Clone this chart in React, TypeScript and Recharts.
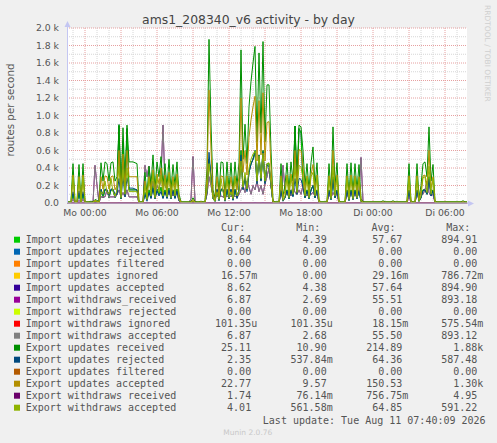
import React from "react";
import { LineChart, Line, XAxis, YAxis, CartesianGrid } from "recharts";

// 10-minute samples, first sample at Sun 22:30 (1.5 h before "Mo 00:00")
const startHour = -1.5;
const stepsPerHour = 6;

const exportUpdatesReceived = [
  15,15,15,450,20,20,440,20,450,15,
  15,15,20,15,40,30,15,460,250,470,
  450,250,460,470,250,300,880,150,860,250,
  890,470,470,470,460,450,15,15,15,350,
  100,420,200,550,150,470,300,530,200,450,
  180,500,150,440,200,470,100,15,15,15,
  15,15,15,60,15,15,15,20,15,15,
  400,1870,900,150,60,460,100,470,460,80,
  470,150,460,120,470,200,460,1750,500,900,
  450,1100,1390,1600,1790,700,1715,800,1845,700,
  1350,1350,600,20,15,15,15,450,80,200,
  460,150,470,250,880,300,890,870,600,200,
  450,150,460,640,200,460,30,15,15,15,
  15,450,120,870,200,460,20,15,15,15,
  450,100,460,120,450,150,440,50,15,15,
  15,15,15,15,15,15,15,15,25,15,
  15,15,15,25,15,15,15,15,15,15,
  15,450,20,15,15,450,60,200,450,470,
  300,870,250,440,20,15,15,15,15,15,
  15,15,15,15,15,15,15,15,25,15,
  15,
];

const exportUpdatesAccepted = [
  10,10,10,320,15,15,300,15,320,10,
  10,10,10,10,30,20,10,300,160,310,
  300,160,300,310,150,200,600,100,560,180,
  600,300,300,300,300,300,10,10,10,250,
  80,300,150,380,100,330,220,400,150,320,
  130,350,100,300,150,330,70,10,10,10,
  10,10,10,40,10,10,10,15,10,10,
  280,1290,600,100,40,300,70,310,300,60,
  310,100,300,90,310,150,300,1200,350,600,
  320,750,950,1100,1220,480,1170,550,1260,480,
  920,930,400,15,10,10,10,310,60,140,
  320,100,330,180,600,200,610,600,420,140,
  310,100,320,440,140,320,20,10,10,10,
  10,310,80,600,140,320,15,10,10,10,
  310,70,320,80,310,100,300,35,10,10,
  10,10,10,10,10,10,10,10,15,10,
  10,10,10,15,10,10,10,10,10,10,
  10,310,15,10,10,310,40,140,310,320,
  200,600,170,300,15,10,10,10,10,10,
  10,10,10,10,10,10,10,10,15,10,
  10,
];

const exportUpdatesRejected = [
  5,5,5,130,5,5,140,5,130,5,
  5,5,10,5,10,10,5,160,90,160,
  150,90,160,160,100,100,280,50,300,70,
  290,170,170,170,160,150,5,5,5,100,
  20,120,50,170,50,140,80,130,50,130,
  50,150,50,140,50,140,30,5,5,5,
  5,5,5,20,5,5,5,5,5,5,
  120,580,300,50,20,160,30,160,160,20,
  160,50,160,30,160,50,160,550,150,300,
  130,350,440,500,570,220,545,250,585,220,
  430,420,200,5,5,5,5,140,20,60,
  140,50,140,70,280,100,280,270,180,60,
  140,50,140,200,60,140,10,5,5,5,
  5,140,40,270,60,140,5,5,5,5,
  140,30,140,40,140,50,140,15,5,5,
  5,5,5,5,5,5,5,5,10,5,
  5,5,5,10,5,5,5,5,5,5,
  5,140,5,5,5,140,20,60,140,150,
  100,270,80,140,5,5,5,5,5,5,
  5,5,5,5,5,5,5,5,10,5,
  5,
];

const exportWithdrawsAccepted = [
  3,3,3,300,5,5,280,5,300,3,
  3,3,3,3,20,10,3,130,100,250,
  130,100,280,130,80,150,420,60,380,100,
  400,130,130,130,130,130,3,3,3,200,
  40,280,80,350,60,300,120,320,80,280,
  70,330,60,260,80,300,40,3,3,3,
  3,3,3,20,3,3,3,3,3,3,
  150,450,250,50,20,130,40,280,130,30,
  300,60,130,50,290,80,130,480,180,350,
  160,400,500,560,591,250,540,280,570,250,
  450,460,220,5,3,3,3,290,30,80,
  300,60,310,100,420,120,430,410,280,80,
  290,60,300,350,80,300,5,3,3,3,
  3,290,50,420,80,300,5,3,3,3,
  290,40,300,50,290,60,280,10,3,3,
  3,3,3,3,3,3,3,3,3,3,
  3,3,3,3,3,3,3,3,3,3,
  3,290,5,3,3,290,20,80,290,300,
  120,420,100,280,5,3,3,3,3,3,
  3,3,3,3,3,3,3,3,3,3,
  3,
];

const exportWithdrawsReceived = [
  1,1,1,1,1,1,1,1,1,1, 1,1,1,1,1,1,1,1,1,1,
  1,1,1,1,1,1,3,1,1,1, 1,1,1,1,1,1,1,1,1,1,
  1,1,1,1,1,1,1,1,1,1, 1,1,1,1,1,1,1,1,1,1,
  1,1,1,1,1,1,1,1,1,1, 1,5,1,1,1,1,1,1,1,1,
  1,1,1,1,1,1,1,1,1,1, 1,1,1,1,4,1,1,1,4,1,
  1,1,1,1,1,1,1,1,1,1, 1,1,1,1,1,1,3,1,1,1,
  1,1,1,1,1,1,1,1,1,1, 1,1,1,1,1,1,1,1,1,1,
  1,1,1,1,1,1,1,1,1,1, 1,1,1,1,1,1,1,1,1,1,
  1,1,1,1,1,1,1,1,1,1, 1,1,1,1,1,1,1,1,1,1,
  1,1,1,1,1,1,1,1,1,1, 1,1,1,1,1,1,1,1,1,1,
  1,
];

const importWithdraws = [
  5,5,5,40,5,5,30,5,40,5,
  5,5,5,5,430,200,5,70,70,70,
  150,70,70,70,70,100,150,70,120,70,
  150,70,70,70,70,70,5,5,5,430,
  300,420,150,250,100,200,150,300,890,200,
  150,100,200,80,150,100,30,5,5,5,
  5,5,50,530,30,5,5,5,5,5,
  100,300,200,80,60,80,60,80,70,60,
  80,60,80,70,80,60,100,150,200,120,
  250,180,100,200,150,250,130,200,100,220,
  300,400,200,10,5,5,5,100,430,150,
  100,150,80,200,120,100,150,100,200,100,
  80,150,100,120,80,100,10,5,5,5,
  5,100,60,120,80,100,5,5,5,5,
  100,60,120,80,100,60,150,520,20,5,
  5,5,5,5,5,5,5,5,5,5,
  5,5,5,5,5,5,5,5,5,5,
  5,80,5,5,5,100,60,120,100,150,
  250,120,80,100,5,5,5,5,5,5,
  5,5,5,5,5,5,5,5,5,5,
  5,
];

const importUpdates = [
  5,5,5,100,5,5,100,5,100,5,
  5,5,5,5,20,10,5,150,60,150,
  150,60,150,150,60,100,895,50,700,80,
  850,150,150,150,150,150,5,5,5,120,
  40,150,60,200,50,160,100,180,60,150,
  60,170,50,150,60,160,30,5,5,5,
  5,5,5,20,5,5,5,5,5,5,
  130,500,300,50,20,150,30,150,150,30,
  150,50,150,40,150,60,150,600,160,300,
  150,350,450,500,600,230,550,260,600,230,
  450,450,200,5,5,5,5,150,30,60,
  150,50,150,80,880,100,850,800,200,60,
  150,50,150,200,60,150,10,5,5,5,
  5,150,40,300,60,150,5,5,5,5,
  150,30,150,40,150,50,150,20,5,5,
  5,5,5,5,5,5,5,5,5,5,
  5,5,5,5,5,5,5,5,5,5,
  5,150,5,5,5,150,20,60,150,150,
  100,300,80,150,5,5,5,5,5,5,
  5,5,5,5,5,5,5,5,5,5,
  5,
];

const zeros = [
  0,0,0,0,0,0,0,0,0,0,0,0,0,0,0,0,0,0,0,0,
  0,0,0,0,0,0,0,0,0,0,0,0,0,0,0,0,0,0,0,0,
  0,0,0,0,0,0,0,0,0,0,0,0,0,0,0,0,0,0,0,0,
  0,0,0,0,0,0,0,0,0,0,0,0,0,0,0,0,0,0,0,0,
  0,0,0,0,0,0,0,0,0,0,0,0,0,0,0,0,0,0,0,0,
  0,0,0,0,0,0,0,0,0,0,0,0,0,0,0,0,0,0,0,0,
  0,0,0,0,0,0,0,0,0,0,0,0,0,0,0,0,0,0,0,0,
  0,0,0,0,0,0,0,0,0,0,0,0,0,0,0,0,0,0,0,0,
  0,0,0,0,0,0,0,0,0,0,0,0,0,0,0,0,0,0,0,0,
  0,0,0,0,0,0,0,0,0,0,0,0,0,0,0,0,0,0,0,0,
  0,
];

const tickHours = [0, 6, 12, 18, 24, 30];
const tickLabels = ["Mo 00:00", "Mo 06:00", "Mo 12:00", "Mo 18:00", "Di 00:00", "Di 06:00"];
const yTicks = [0, 200, 400, 600, 800, 1000, 1200, 1400, 1600, 1800, 2000];
const yMinor = [100, 300, 500, 700, 900, 1100, 1300, 1500, 1700, 1900];

type Series = {
  key: string; name: string; color: string; values: number[];
  cur: string; min: string; avg: string; max: string;
};

const series: Series[] = [
  { key: "iur", name: "Import updates received", color: "#00CC00", values: importUpdates, cur: "8.64", min: "4.39", avg: "57.67", max: "894.91" },
  { key: "iurej", name: "Import updates rejected", color: "#0066B3", values: zeros, cur: "0.00", min: "0.00", avg: "0.00", max: "0.00" },
  { key: "iuf", name: "Import updates filtered", color: "#FF8000", values: zeros, cur: "0.00", min: "0.00", avg: "0.00", max: "0.00" },
  { key: "iui", name: "Import updates ignored", color: "#FFCC00", values: zeros, cur: "16.57m", min: "0.00", avg: "29.16m", max: "786.72m" },
  { key: "iua", name: "Import updates accepted", color: "#330099", values: importUpdates, cur: "8.62", min: "4.38", avg: "57.64", max: "894.90" },
  { key: "iwr", name: "Import withdraws_received", color: "#990099", values: importWithdraws, cur: "6.87", min: "2.69", avg: "55.51", max: "893.18" },
  { key: "iwrej", name: "Import withdraws rejected", color: "#CCFF00", values: zeros, cur: "0.00", min: "0.00", avg: "0.00", max: "0.00" },
  { key: "iwi", name: "Import withdraws ignored", color: "#FF0000", values: zeros, cur: "101.35u", min: "101.35u", avg: "18.15m", max: "575.54m" },
  { key: "iwa", name: "Import withdraws accepted", color: "#808080", values: importWithdraws, cur: "6.87", min: "2.68", avg: "55.50", max: "893.12" },
  { key: "er", name: "Export updates received", color: "#008F00", values: exportUpdatesReceived, cur: "25.11", min: "10.90", avg: "214.89", max: "1.88k" },
  { key: "erej", name: "Export updates rejected", color: "#00487D", values: exportUpdatesRejected, cur: "2.35", min: "537.84m", avg: "64.36", max: "587.48" },
  { key: "ef", name: "Export updates filtered", color: "#B35A00", values: zeros, cur: "0.00", min: "0.00", avg: "0.00", max: "0.00" },
  { key: "ea", name: "Export updates accepted", color: "#B38F00", values: exportUpdatesAccepted, cur: "22.77", min: "9.57", avg: "150.53", max: "1.30k" },
  { key: "ewr", name: "Export withdraws received", color: "#6B006B", values: exportWithdrawsReceived, cur: "1.74", min: "76.14m", avg: "756.75m", max: "4.95" },
  { key: "ewa", name: "Export withdraws accepted", color: "#8FB300", values: exportWithdrawsAccepted, cur: "4.01", min: "561.58m", avg: "64.85", max: "591.22" },
];

// drawing order (accepted import updates under received so the green stays visible)
const drawOrder = ["iua", "iur", "iurej", "iuf", "iui", "iwr", "iwrej", "iwi", "iwa", "er", "erej", "ef", "ea", "ewr", "ewa"];

const data = exportUpdatesReceived.map((_, i) => {
  const row: Record<string, number> = { t: i };
  series.forEach((s) => { row[s.key] = s.values[i]; });
  return row;
});

const hourToIdx = (h: number) => (h - startHour) * stepsPerHour;
const xTicks = tickHours.map(hourToIdx);
const majorV: number[] = [];
const minorV: number[] = [];
for (let h = -1; h <= 31; h++) {
  if (h % 3 === 0) majorV.push(hourToIdx(h)); else minorV.push(hourToIdx(h));
}

const SANS = "'DejaVu Sans', sans-serif";
const MONO = "'DejaVu Sans Mono', monospace";
const TXT = "#555";
const AXIS = "#c4c6f2";

const fmtY = (v: number) => (v === 0 ? "0.0" : (v / 1000).toFixed(1) + " k");
const fmtX = (v: number) => {
  const k = xTicks.findIndex((x) => Math.abs(x - v) < 1e-6);
  return k >= 0 ? tickLabels[k] : "";
};
const pad = (s: string) => (/[a-z]$/i.test(s) ? s : s + "\u00a0");

const colEnds = { cur: 257.2, min: 332.7, avg: 408.3, max: 483.3 };

export default function App() {
  return (
    <div style={{ position: "absolute", left: 0, top: 0, width: 497, height: 443, background: "#F0F0F0", overflow: "hidden" }}>
      <div style={{ position: "absolute", left: 0, top: 0 }}>
        <LineChart width={497} height={223} data={data} margin={{ top: 28, right: 30, left: 0, bottom: 0 }}>
          <CartesianGrid fill="#ffffff" stroke="#d6d6d6" strokeDasharray="1 1" horizontalValues={yMinor} verticalValues={minorV} />
          <CartesianGrid stroke="#e6a0a0" strokeDasharray="1 1" horizontalValues={yTicks.slice(1)} verticalValues={majorV} />
          <XAxis dataKey="t" type="number" domain={[0, 200]} ticks={xTicks} tickFormatter={fmtX} axisLine={false} tickLine={false} tickSize={0} tickMargin={6} height={20} interval={0}
            tick={{ fontSize: 9.3, fill: TXT, fontFamily: SANS }} />
          <YAxis type="number" domain={[0, 2000]} ticks={yTicks} tickFormatter={fmtY} axisLine={false} tickLine={false} tickSize={0} tickMargin={8} width={67} interval={0}
            tick={{ fontSize: 9.3, fill: TXT, fontFamily: SANS }} />
          {drawOrder.map((k) => {
            const s = series.find((x) => x.key === k)!;
            return <Line key={k} type="linear" dataKey={k} name={s.name} stroke={s.color} strokeWidth={1} dot={false} activeDot={false} isAnimationActive={false} />;
          })}
        </LineChart>
      </div>
      <svg width={497} height={443} style={{ position: "absolute", left: 0, top: 0, pointerEvents: "none" }}>
        <line x1={67.5} y1={203} x2={67.5} y2={27} stroke={AXIS} strokeWidth={1} />
        <line x1={67} y1={203.2} x2={469} y2={203.2} stroke="#b4aee0" strokeWidth={1.3} />
        <polygon points="64.5,27 70.5,27 67.5,21" fill={AXIS} />
        <polygon points="468,200.5 468,206.5 474,203.5" fill={AXIS} />
        <text x={248.5} y={24} textAnchor="middle" fontFamily={SANS} fontSize={12.4} fill="#444">ams1_208340_v6 activity - by day</text>
        <text transform="translate(13.5,110) rotate(-90)" textAnchor="middle" fontFamily={SANS} fontSize={10.3} fill={TXT}>routes per second</text>
        <text transform="translate(484.5,5) rotate(90)" fontFamily={SANS} fontSize={7.5} fill="#cfcfcf">RRDTOOL / TOBI OETIKER</text>
        <g fontFamily={MONO} fontSize={10} fill={TXT}>
          <text x={221.1} y={231.2}>Cur:</text>
          <text x={296.2} y={231.2}>Min:</text>
          <text x={371.5} y={231.2}>Avg:</text>
          <text x={446.2} y={231.2}>Max:</text>
          {series.map((s, i) => {
            const by = 243.3 + 12 * i;
            return (
              <g key={s.key}>
                <rect x={14} y={by - 6.6} width={6} height={6} fill={s.color} />
                <text x={25.7} y={by} style={{ whiteSpace: "pre" }}>{s.name}</text>
                <text x={colEnds.cur} y={by} textAnchor="end">{pad(s.cur)}</text>
                <text x={colEnds.min} y={by} textAnchor="end">{pad(s.min)}</text>
                <text x={colEnds.avg} y={by} textAnchor="end">{pad(s.avg)}</text>
                <text x={colEnds.max} y={by} textAnchor="end">{pad(s.max)}</text>
              </g>
            );
          })}
          <text x={485.6} y={424.3} textAnchor="end">Last update: Tue Aug 11 07:40:09 2026</text>
        </g>
        <text x={247.8} y={435} textAnchor="middle" fontFamily={SANS} fontSize={7.5} fill="#c8c8c8">Munin 2.0.76</text>
      </svg>
    </div>
  );
}
